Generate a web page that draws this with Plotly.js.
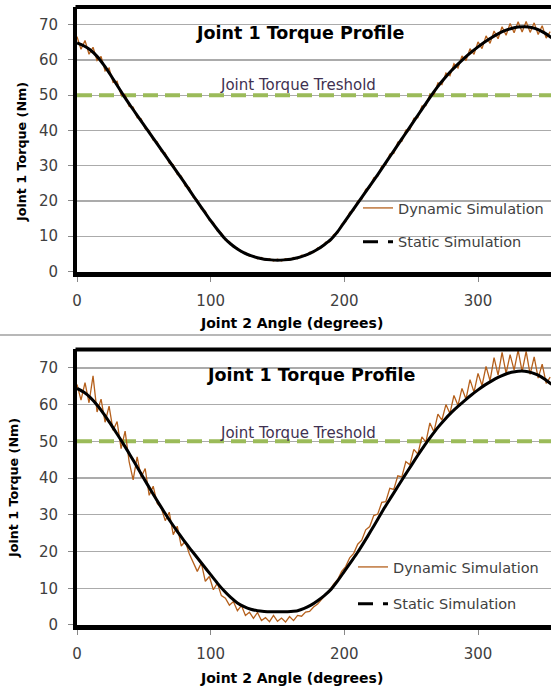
<!DOCTYPE html>
<html>
<head>
<meta charset="utf-8">
<script src="https://cdn.plot.ly/plotly-3.0.1.min.js"></script>
<style>html,body{margin:0;padding:0;background:#fff;}#chart{width:551px;height:690px;}</style>
</head>
<body>
<div id="chart"></div>
<script>
// ---- data ----
var staticAngle = [0,5,10,15,20,25,30,35,40,45,50,55,60,65,70,75,80,85,90,95,100,105,110,115,120,125,130,135,140,145,150,155,160,165,170,175,180,185,190,195,200,205,210,215,220,225,230,235,240,245,250,255,260,265,270,275,280,285,290,295,300,305,310,315,320,325,330,335,340,345,350,355];
var staticTop = [64.8,64.0,62.8,61.0,58.6,55.8,52.8,49.8,47.0,44.3,41.6,38.9,36.2,33.5,30.8,28.1,25.4,22.6,19.8,17.1,14.4,11.9,9.6,7.8,6.4,5.3,4.5,3.9,3.5,3.3,3.2,3.3,3.5,3.9,4.5,5.3,6.3,7.6,9.1,11.3,14.0,16.7,19.4,22.1,24.8,27.5,30.3,33.1,35.9,38.7,41.5,44.3,47.1,49.9,52.5,54.8,56.9,58.8,60.6,62.2,63.7,65.1,66.3,67.4,68.3,68.9,69.3,69.4,69.2,68.6,67.6,66.3];
var staticBottom = [64.4,63.4,61.9,59.9,57.5,54.8,52.0,49.1,46.1,43.0,39.9,36.8,33.8,30.9,28.1,25.5,23.0,20.6,18.3,16.0,13.7,11.4,9.3,7.5,6.0,5.0,4.3,3.9,3.7,3.6,3.6,3.6,3.7,3.9,4.5,5.4,6.6,8.0,9.7,12.0,14.6,17.2,19.8,22.7,25.7,28.8,31.9,34.8,37.7,40.6,43.4,46.2,48.9,51.4,53.8,55.9,57.8,59.5,61.1,62.6,64.0,65.3,66.4,67.4,68.2,68.8,69.1,69.1,68.7,68.0,66.9,65.5];

var dynAngle = [0,3,6,9,12,15,18,21,24,27,30,33,36,39,42,45,48,51,54,57,60,63,66,69,72,75,78,81,84,87,90,93,96,99,102,105,108,111,114,117,120,123,126,129,132,135,138,141,144,147,150,153,156,159,162,165,168,171,174,177,180,183,186,189,192,195,198,201,204,207,210,213,216,219,222,225,228,231,234,237,240,243,246,249,252,255,258,261,264,267,270,273,276,279,282,285,288,291,294,297,300,303,306,309,312,315,318,321,324,327,330,333,336,339,342,345,348,351,354];
var dynTop = [66.6,63.0,65.5,61.6,63.6,59.8,61.0,56.9,57.7,53.6,53.9,50.0,50.1,46.8,46.6,43.6,43.3,40.5,40.0,37.2,36.8,34.0,33.6,30.7,30.3,27.5,27.1,24.2,23.8,21.0,20.3,17.7,17.1,14.5,13.9,11.5,10.9,8.9,8.5,6.9,6.7,5.4,5.4,4.3,4.5,3.6,4.0,3.2,3.6,3.0,3.5,3.0,3.6,3.2,4.0,3.6,4.6,4.4,5.5,5.4,6.7,6.8,8.3,8.4,10.5,10.9,13.4,14.1,16.8,17.3,20.0,20.5,23.3,23.8,26.6,27.0,29.9,30.3,33.3,33.5,36.7,36.9,40.1,40.2,43.4,43.6,46.9,47.0,50.2,50.1,53.5,53.0,56.3,55.5,58.9,57.7,61.1,59.8,63.2,61.6,65.1,63.2,66.8,64.7,68.2,66.0,69.4,67.0,70.3,67.7,70.8,67.9,70.9,67.8,70.5,67.2,69.7,66.2,68.0];
var dynBottom = [65.5,61.2,66.0,60.5,67.8,58.0,61.5,55.2,59.6,53.0,55.4,48.0,52.8,44.5,39.5,45.8,40.2,42.6,35.3,37.8,33.1,31.9,28.4,30.7,24.6,26.9,21.5,22.8,19.4,17.1,14.6,16.9,11.9,13.2,9.6,11.4,8.0,7.3,5.4,6.4,3.9,5.3,2.6,3.5,1.8,3.4,1.2,2.0,0.9,2.6,1.0,1.9,0.8,2.3,1.2,2.6,2.4,3.5,3.7,4.9,5.7,7.0,8.2,9.5,11.1,12.4,14.6,15.9,18.3,19.5,22.0,23.1,25.9,26.8,29.8,30.2,33.4,33.6,37.2,36.9,40.6,40.3,44.5,43.6,47.8,46.5,51.2,49.8,55.0,52.6,57.4,55.8,60.0,57.6,62.5,59.8,64.4,61.5,66.8,63.4,68.5,65.2,70.4,66.5,72.8,68.0,74.2,68.5,73.6,69.4,74.8,69.0,74.5,68.2,73.0,67.2,71.0,65.8,67.5];

var thresholdAngle = [0, 360];
var thresholdValue = [50, 50];

var xTicks = [0, 100, 200, 300];
var yTicks = [0, 10, 20, 30, 40, 50, 60, 70];

var chartTitle = 'Joint 1 Torque Profile';
var xTitle = 'Joint 2 Angle (degrees)';
var yTitle = 'Joint 1 Torque (Nm)';
var thresholdLabel = 'Joint Torque Treshold';
var dynName = 'Dynamic Simulation';
var staticName = 'Static Simulation';

// ---- styling ----
var FONT = 'DejaVu Sans';
var ORANGE = '#B5601C';
var GREEN = '#9BBB59';
var TXT = '#404040';

function traces(xa, ya, dyn, stat, leg) {
  return [
    {x: thresholdAngle, y: thresholdValue, xaxis: xa, yaxis: ya, mode: 'lines', showlegend: false,
     line: {color: GREEN, width: 4, dash: '15px,7px'}, hoverinfo: 'skip'},
    {x: dynAngle, y: dyn, xaxis: xa, yaxis: ya, mode: 'lines', name: dynName, legend: leg, legendgroup: leg + 'd',
     line: {color: ORANGE, width: 1.3}},
    {x: staticAngle, y: stat, xaxis: xa, yaxis: ya, mode: 'lines', showlegend: false,
     line: {color: '#000', width: 3, shape: 'spline', smoothing: 0.6}},
    {x: [null], y: [null], xaxis: xa, yaxis: ya, mode: 'lines', name: staticName, legend: leg, legendgroup: leg + 's',
     line: {color: '#000', width: 3, dash: '15px,10px'}}
  ];
}

var data = traces('x', 'y', dynTop, staticTop, 'legend').concat(traces('x2', 'y2', dynBottom, staticBottom, 'legend2'));

function xax(anchor) {
  return {domain: [0, 1], range: [0, 354.6], anchor: anchor, tickvals: xTicks, ticks: 'outside', ticklen: 5,
    tickcolor: '#888', tickwidth: 1, showgrid: false, zeroline: false, showline: true, linecolor: '#000', linewidth: 5,
    ticklabelstandoff: 6, tickfont: {family: FONT, size: 15, color: TXT}};
}
function yax(anchor, dom) {
  return {domain: dom, range: [0, 75], anchor: anchor, tickvals: yTicks, ticks: 'outside', ticklen: 5,
    tickcolor: '#888', tickwidth: 1, showgrid: true, gridcolor: '#ababab', gridwidth: 1.3, zeroline: false,
    showline: true, linecolor: '#000', linewidth: 4, ticklabelstandoff: 7,
    tickfont: {family: FONT, size: 15, color: TXT}};
}

var W = 474, H = 618, L = 77, T = 7;
function px(v) { return (v - L) / W; }
function py(v) { return 1 - (v - T) / H; }

function ann(text, x, y, size, bold, color, angle) {
  return {text: text, xref: 'paper', yref: 'paper', x: px(x), y: py(y), xanchor: 'center', yanchor: 'middle',
    showarrow: false, textangle: angle || 0,
    font: {family: FONT, size: size, color: color, weight: bold ? 'bold' : 'normal'}};
}

var layout = {
  width: 551, height: 690,
  margin: {l: L, r: 0, t: T, b: 65},
  paper_bgcolor: '#fff', plot_bgcolor: '#fff',
  showlegend: true,
  xaxis: xax('y'), yaxis: yax('x', [0.572, 1]),
  xaxis2: xax('y2'), yaxis2: yax('x2', [0, 0.4458]),
  legend: {x: px(358), y: py(192), xanchor: 'left', yanchor: 'top', bgcolor: 'rgba(0,0,0,0)',
    font: {family: FONT, size: 14.5, color: TXT}, tracegroupgap: 12},
  legend2: {x: px(353), y: py(551), xanchor: 'left', yanchor: 'top', bgcolor: 'rgba(0,0,0,0)',
    font: {family: FONT, size: 14.5, color: TXT}, tracegroupgap: 15},
  annotations: [
    ann(chartTitle, 300, 33, 17.5, true, '#000'),
    ann(thresholdLabel, 298, 85, 15, false, '#3f3151'),
    ann(xTitle, 291, 323, 14, true, '#000'),
    ann(yTitle, 21, 152, 12.7, true, '#000', -90),
    ann(chartTitle, 311, 375, 17.5, true, '#000'),
    ann(thresholdLabel, 298, 433, 15, false, '#3f3151'),
    ann(xTitle, 291, 678, 14, true, '#000'),
    ann(yTitle, 13, 488, 12.7, true, '#000', -90)
  ],
  shapes: [
    {type: 'line', xref: 'paper', yref: 'paper', x0: px(75.5), x1: 1.05, y0: 1, y1: 1, line: {color: '#000', width: 4}},
    {type: 'line', xref: 'paper', yref: 'paper', x0: px(75.5), x1: 1.05, y0: 0.4458, y1: 0.4458, line: {color: '#000', width: 4}},
    {type: 'line', xref: 'paper', yref: 'paper', x0: px(0), x1: 1.05, y0: py(335), y1: py(335), line: {color: '#a0a0a0', width: 1.5}}
  ]
};

Plotly.newPlot('chart', data, layout, {displayModeBar: false, staticPlot: true});
</script>
</body>
</html>
